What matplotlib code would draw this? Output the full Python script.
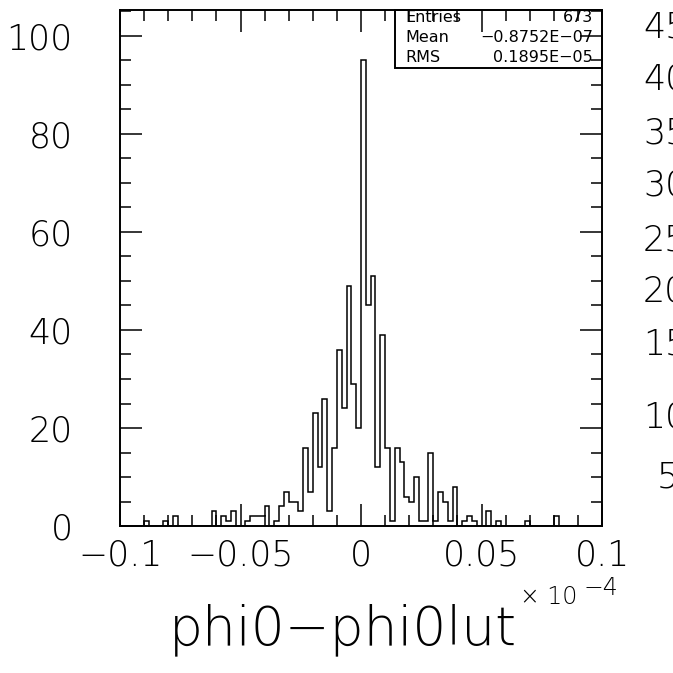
import numpy as np
import matplotlib
matplotlib.use("Agg")
import matplotlib.pyplot as plt
from matplotlib.ticker import MultipleLocator

# ---- data -------------------------------------------------------------
x_min, x_max, n_bins = -0.1, 0.1, 100
counts = [
    0, 0, 0, 0, 0, 1, 0, 0, 0, 1,      # 0-9
    0, 2, 0, 0, 0, 0, 0, 0, 0, 3,      # 10-19
    0, 2, 1, 3, 0, 0, 1, 2, 2, 2,      # 20-29
    4, 0, 1, 4, 7, 5, 5, 3, 16, 7,     # 30-39
    23, 12, 26, 3, 16, 36, 24, 49, 29, 20,  # 40-49
    95, 45, 51, 12, 39, 16, 1, 16, 13, 6,   # 50-59
    5, 10, 1, 1, 15, 1, 7, 5, 1, 8,    # 60-69
    0, 1, 2, 1, 0, 0, 3, 0, 1, 0,      # 70-79
    0, 0, 0, 0, 1, 0, 0, 0, 0, 0,      # 80-89
    2, 0, 0, 0, 0, 0, 0, 0, 0, 0,      # 90-99
]
x_ticks = [-0.1, -0.05, 0, 0.05, 0.1]
x_tick_labels = ["\u22120.1", "\u22120.05", "0", "0.05", "0.1"]
y_ticks = [0, 20, 40, 60, 80, 100]
stat_names = ["Entries", "Mean", "RMS"]
stat_values = ["673", "\u22120.8752E\u221207", "0.1895E\u221205"]
xlabel = "phi0\u2212phi0lut"
neighbour_labels = ["45", "40", "35", "30", "25", "20", "15", "10", "5"]
neighbour_y_px = [28, 80, 133, 186, 240, 292, 345, 418, 478]

edges = np.linspace(x_min, x_max, n_bins + 1)

# ---- figure -----------------------------------------------------------
W = H = 673
plt.rcParams['font.family'] = ['DejaVu Sans']
plt.rcParams['font.weight'] = 'light'
fig = plt.figure(figsize=(W / 100, H / 100), dpi=100)

L, R, B, T = 120, 602, 526, 10
ax = fig.add_axes([L / W, 1 - B / H, (R - L) / W, (B - T) / H])
ax.stairs(counts, edges, color="black", linewidth=1.1)
ax.set_xlim(x_min, x_max)
ax.set_ylim(0, (B - T) / 4.9)

for s in ax.spines.values():
    s.set_linewidth(1.4)

ax.xaxis.set_major_locator(MultipleLocator(0.05))
ax.xaxis.set_minor_locator(MultipleLocator(0.01))
ax.yaxis.set_major_locator(MultipleLocator(20))
ax.yaxis.set_minor_locator(MultipleLocator(5))
ax.tick_params(which="both", direction="in", top=True, right=True,
               width=1.1, labelsize=25, color="black")
ax.tick_params(which="major", length=16)
ax.tick_params(which="minor", length=8)
ax.set_xticks(x_ticks)
ax.set_xticklabels(x_tick_labels)
ax.set_yticks(y_ticks)
ax.set_yticklabels([str(v) for v in y_ticks])
ax.tick_params(axis="x", pad=9)
ax.tick_params(axis="y", pad=34)
for lbl in ax.get_yticklabels():
    lbl.set_horizontalalignment("right")

# stats box
bx0, by0 = 395, 68
box = plt.Rectangle((bx0 / W, 1 - by0 / H), (R - bx0) / W, (by0 - T) / H,
                    transform=fig.transFigure, fill=False, edgecolor="black",
                    linewidth=1.4)
fig.patches.append(box)
row_y = [18, 38, 57]
for name, val, yy in zip(stat_names, stat_values, row_y):
    fig.text(405 / W, 1 - yy / H, name, fontsize=11.5, va="center", ha="left",
             weight="normal")
    fig.text(593 / W, 1 - yy / H, val, fontsize=11.5, va="center", ha="right",
             weight="normal")

# axis label and exponent
fig.text(343 / W, 1 - 630 / H, xlabel, fontsize=38.5, ha="center", va="center")
fig.text(520 / W, 1 - 597 / H, "\u00d7 10", fontsize=17, ha="left", va="center")
fig.text(584 / W, 1 - 588 / H, "\u22124", fontsize=17, ha="left", va="center")

# partial labels of neighbouring pad
for lab, yy in zip(neighbour_labels, neighbour_y_px):
    xx = 643 if len(lab) == 2 else 657
    fig.text(xx / W, 1 - yy / H, lab, fontsize=25, ha="left", va="center")

fig.savefig("out.png", dpi=100, facecolor="white")
